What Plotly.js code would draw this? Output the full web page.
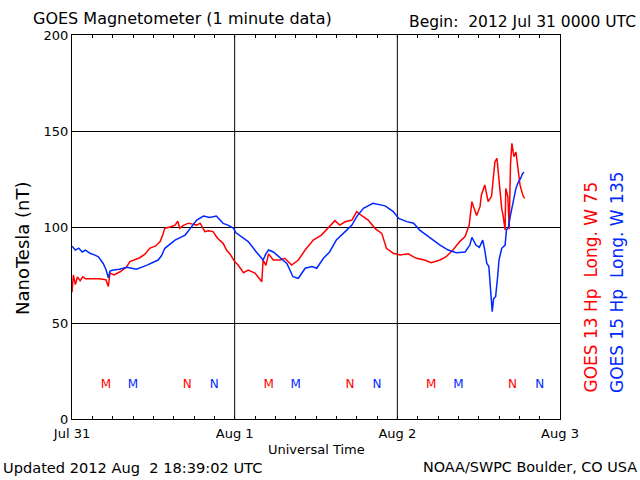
<!DOCTYPE html>
<html>
<head>
<meta charset="utf-8">
<script src="https://cdn.plot.ly/plotly-3.0.1.min.js"></script>
<style>html,body{margin:0;padding:0;background:#fff;}#chart{width:640px;height:480px;}</style>
</head>
<body>
<div id="chart"></div>
<script>
// Hours since 2012 Jul 31 0000 UTC
const goes13Hours = [0,0.2,0.5,0.8,1.2,1.6,2.0,3.0,4.0,5.0,5.36,5.6,6.2,7.1,8.0,8.55,9.3,10,10.8,11.5,12.3,13,13.4,13.7,14.5,15.2,15.6,15.9,16.5,17.2,17.8,18.4,18.9,19.3,19.6,20.2,20.8,21.5,22.3,22.8,23.3,24,24.5,25.3,26,27,27.5,28,28.2,28.6,29,29.7,30.7,31.4,32.4,33.4,34.4,35.6,36.8,38,38.8,39.5,40.3,41.3,42,42.7,43.7,44.7,45.7,46.4,47.4,48.4,49.6,50.8,52,53,54.3,55.2,56.2,57.2,58,58.6,59,59.2,59.7,60.2,60.4,60.9,61.4,61.9,62.4,62.7,63,63.4,63.6,63.9,64,64.3,64.5,64.7,64.9,65.2,65.5,65.8,66.1,66.4,66.6,66.8];
const goes13Values = [66,75,70,74,72,74,73,73,73,72.5,69,76,75,76.7,79,82,83,84,86,89,90,92.4,96,99.4,100,101,103,99.4,101,102,101.5,101,102,99,97.6,98,97.6,94,91.5,88,86,82,80.2,76.2,77.6,76,74,71.5,82.8,80,86,82.8,82.8,83.7,80.2,82.8,88,93.2,95.8,100.2,103.3,101,102.7,103.6,108,106,103.6,99.3,96.7,88.9,86.3,85.4,86,83.7,82.8,81.4,82.8,84.5,88,92.4,95,101,113.2,111,106,110.6,116.7,121.9,113.2,116,134,135.8,123.6,109.7,106,98.4,120.1,116,98.8,133,143.6,136.6,139,129.7,121.9,118,115.8,115];
const goes15Hours = [0,0.5,1,1.5,2.0,2.65,3.3,3.9,4.6,5.0,5.36,5.6,6.1,7,8.1,9.5,11,12.7,13.2,13.7,15.2,16.7,17.65,18.4,19.4,20.3,21.3,21.8,22.3,23,23.8,24.2,25,26,27.2,28.2,28.6,29,29.7,30.7,31.7,32.6,33.4,34.4,35.4,36.1,37.1,38,39,40.3,41.3,42,43,44.4,45.3,46.2,47.4,48.2,49.4,50.4,51.3,52.3,53,54.3,55.5,56.7,58,58.7,59,59.6,60.1,60.6,60.9,61.2,61.5,61.7,61.9,62,62.2,62.5,62.8,63,63.4,63.9,64.1,64.4,64.6,65.1,65.5,65.8,66.2,66.5,66.7];
const goes15Values = [90,88,89,87,88,86.3,85.5,84.5,81,78,73.5,77,77.6,78,79,78,80,82.8,85,88.9,93.2,95.8,100.2,103.6,105.7,105,105.7,104,101.9,101,99.4,97,95,92.4,87,82.8,86,88,87,84.2,81,74.1,73.3,78.5,79.4,78.5,83.7,87,93.2,97.6,101,105.4,109.7,112.3,111.5,111,108,104.5,102.8,102,98.4,95.8,94.1,90.6,88,86.6,87,90.6,94.6,90.6,89.4,93.2,88,81,79.5,70.7,62,55.9,62.7,63.7,74.1,82.8,88.9,90.6,98.4,100,104.5,112.3,120.1,123,125.4,128,128.4];

// Local midnight (M) and noon (N) markers
const goes13MarkHours = [5,17,29,41,53,65];
const goes13MarkText  = ['M','N','M','N','M','N'];
const goes15MarkHours = [9,21,33,45,57,69];
const goes15MarkText  = ['M','N','M','N','M','N'];
const markLevel = [17.5,17.5,17.5,17.5,17.5,17.5];

const dayTicks = [0,24,48,72];
const dayLabels = ['Jul 31','Aug 1','Aug 2','Aug 3'];
const nTTicks = [0,50,100,150,200];

const RED = '#ff0000', BLUE = '#0028ff';
const FONT = 'DejaVu Sans, sans-serif';

const data = [
  {x: goes13Hours, y: goes13Values, type:'scatter', mode:'lines', line:{color:RED, width:1.5}, hoverinfo:'skip'},
  {x: goes15Hours, y: goes15Values, type:'scatter', mode:'lines', line:{color:BLUE, width:1.5}, hoverinfo:'skip'},
  {x: goes13MarkHours, y: markLevel, text: goes13MarkText, type:'scatter', mode:'text', textfont:{family:FONT, size:12, color:RED}, hoverinfo:'skip'},
  {x: goes15MarkHours, y: markLevel, text: goes15MarkText, type:'scatter', mode:'text', textfont:{family:FONT, size:12, color:BLUE}, hoverinfo:'skip'}
];

// 3-hour tick positions, labelled only at day boundaries
const tickPos = [], tickTxt = [];
for (let h = 0; h <= 72; h += 3) {
  tickPos.push(h);
  const k = dayTicks.indexOf(h);
  tickTxt.push(k >= 0 ? dayLabels[k] : '');
}

// vertical grid lines at interior day boundaries
const gridShapes = dayTicks.slice(1, -1).map(h => ({
  type:'line', xref:'x', yref:'paper', x0:h, x1:h, y0:0, y1:1,
  line:{color:'#000', width:1}, layer:'below'
}));

function px(xp){return (xp-72)/488;}
function py(yp){return (419-yp)/384;}

const layout = {
  width:640, height:480,
  margin:{l:72, r:80, t:35, b:61, pad:0},
  paper_bgcolor:'#fff', plot_bgcolor:'#fff',
  showlegend:false,
  font:{family:FONT, color:'#000'},
  shapes: gridShapes,
  xaxis:{
    range:[0,72], tickmode:'array', tickvals:tickPos, ticktext:tickTxt,
    ticks:'inside', ticklen:3, tickcolor:'#000', tickwidth:1, ticklabelstandoff:2,
    showgrid:false,
    showline:true, linecolor:'#000', linewidth:1, mirror:'allticks',
    zeroline:false, tickfont:{family:FONT, size:13, color:'#000'},
    fixedrange:true
  },
  yaxis:{
    range:[0,200], tickmode:'array', tickvals:nTTicks,
    ticks:'', showgrid:true, gridcolor:'#000', gridwidth:1,
    showline:true, linecolor:'#000', linewidth:1, mirror:true,
    zeroline:false, tickfont:{family:FONT, size:13, color:'#000'},
    fixedrange:true
  },
  annotations:[
    {xref:'paper', yref:'paper', x:px(31), y:py(18), xanchor:'left', yanchor:'middle', showarrow:false,
     text:'GOES Magnetometer (1 minute data)', font:{family:FONT, size:16, color:'#000'}},
    {xref:'paper', yref:'paper', x:px(638), y:py(22), xanchor:'right', yanchor:'middle', showarrow:false,
     text:'Begin:\u00a0\u00a02012 Jul 31 0000 UTC', font:{family:FONT, size:15.5, color:'#000'}},
    {xref:'paper', yref:'paper', x:0.5, y:py(449), xanchor:'center', yanchor:'middle', showarrow:false,
     text:'Universal Time', font:{family:FONT, size:13, color:'#000'}},
    {xref:'paper', yref:'paper', x:px(1), y:py(467), xanchor:'left', yanchor:'middle', showarrow:false,
     text:'Updated 2012 Aug\u00a0\u00a02 18:39:02 UTC', font:{family:FONT, size:14.6, color:'#000'}},
    {xref:'paper', yref:'paper', x:px(639), y:py(467), xanchor:'right', yanchor:'middle', showarrow:false,
     text:'NOAA/SWPC Boulder, CO USA', font:{family:FONT, size:14.4, color:'#000'}},
    {xref:'paper', yref:'paper', x:px(22), y:py(248), xanchor:'center', yanchor:'middle', showarrow:false, textangle:-90,
     text:'NanoTesla (nT)', font:{family:FONT, size:18, color:'#000'}},
    {xref:'paper', yref:'paper', x:px(590), y:py(395), xanchor:'center', yanchor:'bottom', showarrow:false, textangle:-90,
     text:'GOES 13 Hp\u00a0\u00a0Long. W 75', font:{family:FONT, size:17, color:RED}},
    {xref:'paper', yref:'paper', x:px(617), y:py(395), xanchor:'center', yanchor:'bottom', showarrow:false, textangle:-90,
     text:'GOES 15 Hp\u00a0\u00a0Long. W 135', font:{family:FONT, size:17, color:BLUE}}
  ]
};

Plotly.newPlot('chart', data, layout, {staticPlot:true, displayModeBar:false});
</script>
</body>
</html>
